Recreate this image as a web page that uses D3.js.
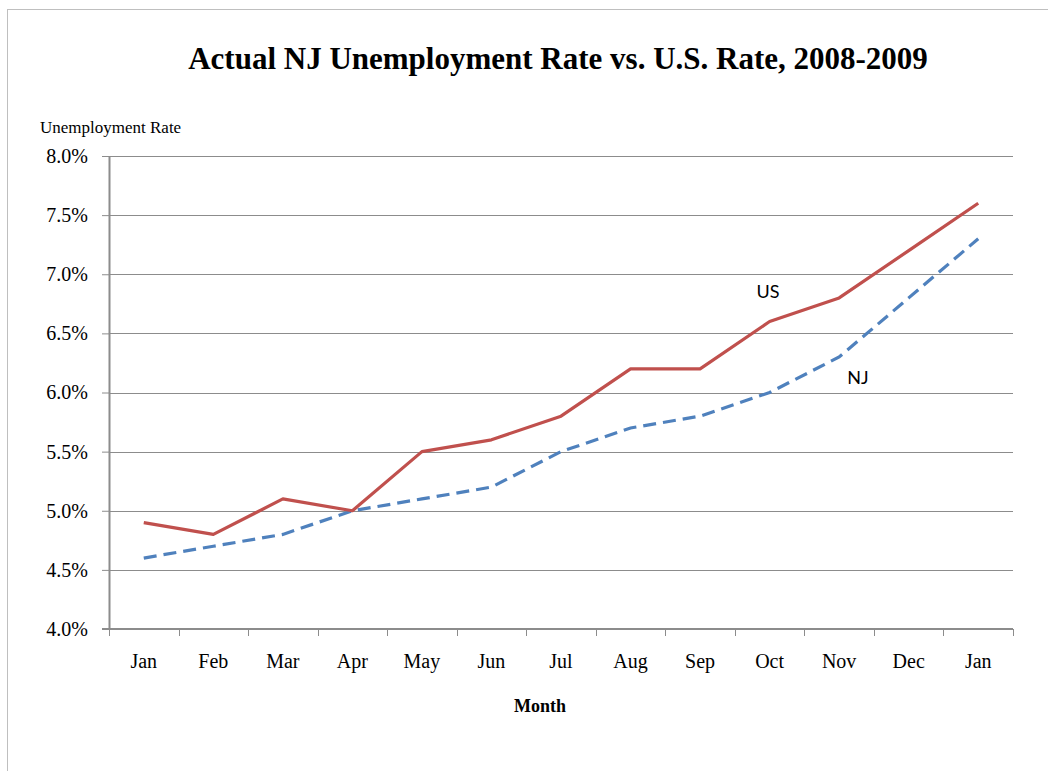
<!DOCTYPE html>
<html>
<head>
<meta charset="utf-8">
<script src="https://cdn.jsdelivr.net/npm/d3@7"></script>
<style>
  html, body { margin: 0; padding: 0; background: #fff; }
  svg { display: block; }
</style>
</head>
<body>
<svg id="chart" width="1048" height="771"></svg>
<script>
// Monthly unemployment rates (%), Jan 2008 – Jan 2009
const months = ["Jan", "Feb", "Mar", "Apr", "May", "Jun", "Jul", "Aug", "Sep", "Oct", "Nov", "Dec", "Jan"];
const usRate = [4.9, 4.8, 5.1, 5.0, 5.5, 5.6, 5.8, 6.2, 6.2, 6.6, 6.8, 7.2, 7.6];
const njRate = [4.6, 4.7, 4.8, 5.0, 5.1, 5.2, 5.5, 5.7, 5.8, 6.0, 6.3, 6.8, 7.3];
const yTicks = [4.0, 4.5, 5.0, 5.5, 6.0, 6.5, 7.0, 7.5, 8.0];

const svg = d3.select("#chart");
const margin = { left: 109, right: 1013, top: 156, bottom: 629 };
const serif = "'Liberation Serif', 'Times New Roman', serif";

// outer chart frame
svg.append("rect")
  .attr("x", 7.5).attr("y", 9.5)
  .attr("width", 1100).attr("height", 900)
  .attr("fill", "none").attr("stroke", "#BFBFBF").attr("stroke-width", 1);

const idx = months.map((_, i) => i);
const x = d3.scaleBand().domain(idx).range([margin.left, margin.right]).padding(0);
const y = d3.scaleLinear().domain([4.0, 8.0]).range([margin.bottom, margin.top]);
const cx = i => x(i) + x.bandwidth() / 2;

// horizontal gridlines
svg.append("g")
  .selectAll("line")
  .data(yTicks.slice(1))
  .join("line")
  .attr("x1", margin.left).attr("x2", margin.right)
  .attr("y1", d => Math.round(y(d)) + 0.5).attr("y2", d => Math.round(y(d)) + 0.5)
  .attr("stroke", "#8C8C8C").attr("stroke-width", 1);

// y axis
const yAxis = svg.append("g")
  .attr("transform", `translate(${margin.left},0)`)
  .call(d3.axisLeft(y).tickValues(yTicks).tickFormat(d => d.toFixed(1) + "%").tickSize(7).tickSizeOuter(0).tickPadding(14));
yAxis.select(".domain").attr("stroke", "#8C8C8C").attr("stroke-width", 2);
yAxis.selectAll(".tick line").attr("stroke", "#8C8C8C").attr("stroke-width", 1);
yAxis.selectAll(".tick text")
  .attr("font-family", serif)
  .attr("font-size", 20).attr("fill", "#000");

// x axis: ticks sit on category boundaries, labels centred in each band
const xg = svg.append("g").attr("transform", `translate(0,${margin.bottom})`);
xg.append("line")
  .attr("x1", margin.left - 7).attr("x2", margin.right)
  .attr("y1", 0).attr("y2", 0)
  .attr("stroke", "#8C8C8C").attr("stroke-width", 2);
xg.selectAll("line.tick")
  .data(d3.range(months.length + 1))
  .join("line")
  .attr("class", "tick")
  .attr("x1", i => Math.round(margin.left + i * x.bandwidth()) + 0.5)
  .attr("x2", i => Math.round(margin.left + i * x.bandwidth()) + 0.5)
  .attr("y1", 0).attr("y2", 7)
  .attr("stroke", "#8C8C8C").attr("stroke-width", 1);
xg.selectAll("text")
  .data(idx)
  .join("text")
  .attr("x", i => cx(i))
  .attr("y", 39)
  .attr("text-anchor", "middle")
  .attr("font-family", serif)
  .attr("font-size", 20)
  .text(i => months[i]);

// series lines
const line = d3.line().x((d, i) => cx(i)).y(d => y(d));
svg.append("path")
  .datum(njRate)
  .attr("d", line)
  .attr("fill", "none")
  .attr("stroke", "#4F81BD").attr("stroke-width", 3.2)
  .attr("stroke-dasharray", "13,7");
svg.append("path")
  .datum(usRate)
  .attr("d", line)
  .attr("fill", "none")
  .attr("stroke", "#C0504D").attr("stroke-width", 3.2)
  .attr("stroke-linejoin", "round");

// series labels
const sans = "Lato, 'Open Sans', 'Noto Sans', sans-serif";
svg.append("text").attr("x", 768).attr("y", 298).attr("text-anchor", "middle")
  .attr("font-family", sans).attr("font-size", 18).text("US");
svg.append("text").attr("x", 858).attr("y", 384).attr("text-anchor", "middle")
  .attr("font-family", sans).attr("font-size", 18).text("NJ");

// titles
svg.append("text")
  .attr("x", 558).attr("y", 69)
  .attr("text-anchor", "middle")
  .attr("font-family", serif)
  .attr("font-weight", "bold").attr("font-size", 31)
  .text("Actual NJ Unemployment Rate vs. U.S. Rate, 2008-2009");
svg.append("text")
  .attr("x", 40).attr("y", 133)
  .attr("font-family", serif)
  .attr("font-size", 17)
  .text("Unemployment Rate");
svg.append("text")
  .attr("x", 540).attr("y", 712)
  .attr("text-anchor", "middle")
  .attr("font-family", serif)
  .attr("font-weight", "bold").attr("font-size", 18)
  .text("Month");
</script>
</body>
</html>
